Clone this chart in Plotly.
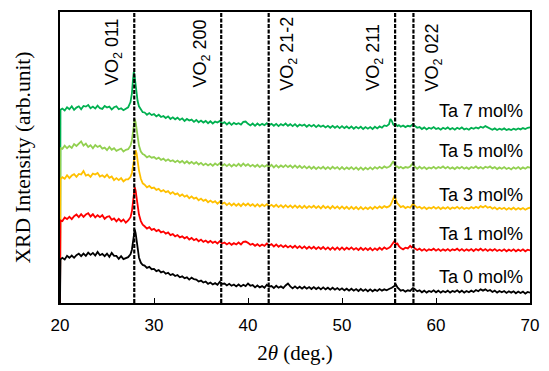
import numpy as np
import plotly.graph_objects as go

# ---------------- scan grid (2theta, deg.) ----------------
def seg(a, b):
    return list(np.round(np.arange(a, b + 0.001, 0.25), 2))

two_theta = ([20.0, 20.05] + seg(20.25, 27.0)
             + [27.25, 27.5, 27.65, 27.75, 27.85, 27.95, 28.05, 28.15, 28.25, 28.4, 28.6, 28.8]
             + seg(29.0, 55.0)
             + [55.15, 55.3, 55.45, 55.6, 55.75, 55.9, 56.05, 56.25, 56.5, 56.75, 57.0,
                57.25, 57.4, 57.55, 57.7, 57.85, 58.0]
             + seg(58.25, 70.0))

# ---------------- intensities (arb. unit, stacked as plotted) ----------------
ta7 = ([0, 594]
       + [598, 592, 602, 596, 605, 594, 601, 605, 596, 606, 604, 609, 599, 604, 598, 607, 599, 597, 606, 601,
          604, 595, 602, 605, 596, 599, 593, 598]
       + [602, 618, 645, 682, 711, 695, 668, 642, 622, 605, 594, 587]
       + [586, 579, 584, 578, 581, 574, 579, 572, 575, 569, 574, 566, 571, 565, 570, 563,
          568, 560, 566, 561, 564, 557, 563, 556, 561, 555, 560, 553, 559, 552, 558, 555,
          560, 552, 556, 549, 555, 548, 554, 550, 553, 549, 557, 558, 551, 546, 552, 545,
          552, 546, 551, 547, 553, 547, 551, 545, 551, 544, 550, 546, 552, 545, 550, 544,
          550, 543, 549, 545, 549, 542, 548, 543, 548, 541, 547, 542, 546, 540, 545, 539,
          545, 539, 544, 538, 544, 538, 543, 537, 543, 536, 542, 537, 542, 535, 541, 536,
          541, 535, 542, 537, 543, 539, 546, 544, 550]
       + [566, 560, 549, 545, 549, 544, 547, 542, 546, 541, 545, 543, 548, 550, 546, 541, 539]
       + [541, 535, 540, 534, 539, 536, 541, 535, 538, 533, 539, 535, 540, 534, 538, 533,
          539, 535, 540, 534, 537, 533, 539, 536, 540, 537, 542, 539, 544, 540, 538, 533,
          537, 532, 536, 533, 537, 532, 535, 532, 536, 533, 537, 534, 538, 535, 539, 540])

ta5 = ([0, 476]
       + [474, 484, 476, 483, 477, 489, 483, 490, 497, 484, 490, 480, 485, 476, 486, 480, 484, 475, 478, 470,
          480, 471, 476, 468, 472, 475, 466, 471]
       + [473, 484, 500, 522, 550, 566, 555, 532, 508, 484, 466, 458]
       + [455, 448, 452, 447, 449, 443, 447, 440, 444, 437, 442, 436, 439, 433, 438, 432,
          437, 430, 436, 429, 434, 428, 433, 426, 431, 424, 429, 423, 428, 422, 429, 424,
          430, 422, 427, 421, 427, 420, 426, 421, 428, 421, 429, 422, 427, 420, 425, 419,
          425, 418, 424, 419, 424, 418, 425, 417, 424, 417, 423, 418, 424, 418, 423, 416,
          423, 416, 422, 415, 421, 414, 420, 413, 419, 412, 418, 413, 419, 412, 418, 412,
          419, 413, 418, 411, 418, 411, 417, 412, 418, 411, 417, 410, 417, 410, 416, 411,
          417, 411, 418, 413, 419, 414, 420, 416, 419]
       + [422, 429, 436, 427, 419, 420, 415, 419, 414, 418, 416, 420, 425, 430, 421, 418, 413]
       + [419, 413, 418, 412, 417, 414, 419, 413, 418, 415, 420, 414, 419, 413, 417, 412,
          418, 414, 419, 413, 417, 412, 418, 415, 420, 414, 418, 413, 419, 416, 420, 414,
          418, 412, 417, 413, 418, 412, 416, 411, 417, 413, 418, 412, 417, 413, 418, 416])

ta3 = ([0, 381]
       + [387, 382, 393, 384, 392, 396, 388, 397, 395, 406, 392, 395, 388, 398, 395, 400, 389, 393, 387, 395,
          385, 389, 378, 384, 378, 384, 374, 380]
       + [380, 388, 400, 418, 442, 462, 470, 460, 438, 408, 382, 368]
       + [364, 356, 360, 353, 355, 348, 351, 343, 347, 341, 344, 336, 341, 334, 337, 329,
          334, 327, 331, 322, 328, 321, 324, 316, 321, 314, 318, 310, 315, 309, 313, 305,
          312, 305, 309, 301, 307, 300, 306, 299, 305, 298, 306, 300, 306, 299, 304, 297,
          304, 297, 303, 298, 304, 297, 302, 296, 302, 295, 301, 294, 301, 294, 300, 293,
          300, 293, 299, 292, 299, 292, 298, 293, 299, 292, 298, 291, 299, 292, 297, 290,
          298, 291, 297, 290, 297, 290, 296, 289, 296, 289, 295, 288, 295, 288, 294, 289,
          295, 289, 296, 291, 297, 292, 298, 294, 297]
       + [301, 310, 324, 331, 316, 306, 302, 295, 298, 292, 296, 293, 299, 305, 301, 298, 293]
       + [296, 290, 295, 289, 294, 291, 296, 290, 295, 289, 294, 290, 295, 289, 294, 291,
          296, 290, 295, 289, 293, 290, 295, 291, 296, 292, 298, 294, 299, 293, 296, 290,
          294, 288, 293, 289, 293, 287, 292, 288, 293, 287, 292, 288, 292, 287, 291, 293])

ta1 = ([0, 254]
       + [252, 263, 258, 265, 258, 267, 272, 264, 273, 265, 272, 276, 266, 273, 263, 270, 264, 270, 259, 265,
          267, 256, 260, 251, 259, 251, 257, 247]
       + [254, 264, 282, 308, 338, 356, 345, 322, 298, 272, 252, 241]
       + [236, 229, 233, 225, 228, 221, 225, 217, 220, 213, 217, 209, 212, 205, 209, 202,
          205, 199, 203, 195, 200, 193, 197, 190, 195, 188, 192, 186, 191, 185, 189, 183,
          190, 183, 186, 180, 185, 179, 184, 180, 186, 180, 188, 189, 185, 179, 182, 176,
          181, 175, 180, 176, 183, 177, 181, 174, 180, 173, 178, 172, 177, 171, 176, 170,
          176, 169, 175, 168, 174, 167, 173, 167, 173, 166, 172, 166, 172, 165, 171, 164,
          171, 164, 171, 164, 171, 164, 170, 165, 171, 164, 169, 163, 170, 163, 169, 163,
          169, 162, 168, 163, 170, 164, 171, 166, 170]
       + [173, 179, 187, 191, 180, 183, 175, 169, 165, 170, 168, 176, 171, 175, 169, 167, 163]
       + [167, 161, 166, 160, 165, 162, 167, 161, 166, 160, 165, 161, 166, 160, 165, 162,
          167, 161, 166, 160, 165, 161, 166, 160, 166, 162, 167, 161, 166, 160, 165, 161,
          166, 160, 164, 160, 165, 159, 164, 160, 165, 159, 164, 160, 165, 159, 164, 162])

ta0 = ([0, 134]
       + [139, 134, 145, 139, 146, 139, 147, 152, 144, 152, 145, 155, 148, 154, 146, 157, 147, 151, 144, 152,
          142, 154, 145, 145, 136, 144, 135, 139]
       + [141, 150, 164, 185, 210, 226, 214, 190, 165, 140, 124, 117]
       + [115, 108, 111, 104, 105, 98, 101, 94, 97, 90, 93, 86, 89, 83, 86, 79,
          82, 76, 79, 72, 78, 73, 72, 66, 69, 63, 66, 59, 63, 57, 61, 56,
          65, 59, 60, 54, 59, 53, 57, 51, 57, 51, 56, 52, 60, 53, 55, 48,
          54, 48, 52, 47, 56, 50, 52, 46, 53, 47, 51, 46, 54, 60, 51, 45,
          51, 45, 50, 44, 50, 44, 49, 43, 49, 43, 48, 42, 48, 42, 47, 41,
          47, 41, 46, 40, 45, 39, 44, 38, 44, 38, 43, 37, 43, 37, 42, 36,
          42, 36, 41, 37, 43, 38, 42, 39, 43]
       + [44, 47, 50, 54, 56, 48, 43, 38, 40, 35, 39, 37, 42, 46, 44, 39, 36]
       + [39, 33, 38, 32, 37, 34, 39, 33, 38, 32, 37, 33, 38, 32, 37, 34,
          39, 33, 38, 32, 37, 33, 38, 34, 40, 36, 42, 38, 42, 37, 40, 34,
          38, 32, 37, 33, 37, 31, 36, 32, 36, 30, 35, 31, 35, 29, 34, 32])

series_names = ["Ta 7 mol%", "Ta 5 mol%", "Ta 3 mol%", "Ta 1 mol%", "Ta 0 mol%"]
series_values = [ta7, ta5, ta3, ta1, ta0]
series_colors = ["#00B050", "#92D050", "#FFC000", "#FF0000", "#000000"]
label_levels = [591, 468, 331, 211, 81]

vo2_positions = [27.9, 37.15, 42.2, 55.65, 57.6]
vo2_labels = ["VO<sub>2</sub> 011", "VO<sub>2</sub> 200", "VO<sub>2</sub> 21-2",
              "VO<sub>2</sub> 211", "VO<sub>2</sub> 022"]
vo2_label_side = [-1, -1, 1, -1, 1]
vo2_label_center = [0.863, 0.858, 0.855, 0.843, 0.845]

for v in series_values:
    assert len(v) == len(two_theta), (len(v), len(two_theta))

SANS = "Liberation Sans, Arial, sans-serif"
SERIF = "Liberation Serif, Times New Roman, serif"

fig = go.Figure()
for name, vals, col in zip(series_names, series_values, series_colors):
    fig.add_trace(go.Scatter(x=two_theta, y=vals, mode="lines", name=name,
                             line=dict(color=col, width=1.8), showlegend=False))

for pos in vo2_positions:
    fig.add_shape(type="line", xref="x", yref="paper", x0=pos, x1=pos, y0=0, y1=1,
                  line=dict(color="black", width=2.2, dash="4px,1.5px"), layer="above")

for pos, lab, side, yc in zip(vo2_positions, vo2_labels, vo2_label_side, vo2_label_center):
    fig.add_annotation(x=pos, y=yc, xref="x", yref="paper", text=lab, textangle=-90,
                       showarrow=False, xanchor="center", yanchor="middle",
                       xshift=20 * side, font=dict(family=SANS, size=18, color="black"))

for name, lvl in zip(series_names, label_levels):
    fig.add_annotation(x=1, y=lvl, xref="paper", yref="y", text=name, showarrow=False,
                       xanchor="right", yanchor="middle", xshift=-5,
                       font=dict(family=SANS, size=18, color="black"))

fig.update_layout(
    width=549, height=371, autosize=False,
    margin=dict(l=60, r=15, t=10, b=62, pad=0),
    paper_bgcolor="white", plot_bgcolor="white",
    showlegend=False,
    xaxis=dict(range=[20, 70], tickvals=[20, 30, 40, 50, 60, 70],
               ticks="outside", ticklen=6, tickcolor="rgba(0,0,0,0)",
               minor=dict(tickvals=[30, 40, 50, 60], ticks="inside", ticklen=5,
                          tickcolor="black", tickwidth=1, showgrid=False),
               showline=True, mirror=True, linecolor="black",
               linewidth=1.5, showgrid=False, zeroline=False,
               tickfont=dict(family=SANS, size=17, color="black"),
               title=dict(text="2<i>θ</i> (deg.)", font=dict(family=SERIF, size=21, color="black"),
                          standoff=11)),
    yaxis=dict(range=[0, 895], showticklabels=False, ticks="", showline=True, mirror=True,
               linecolor="black", linewidth=1.5, showgrid=False, zeroline=False,
               title=dict(text="XRD Intensity (arb.unit)",
                          font=dict(family=SERIF, size=21.5, color="black"), standoff=22)),
)

fig.write_html("out.html", config={"displayModeBar": False},
               post_script="document.body.style.margin='0';")
